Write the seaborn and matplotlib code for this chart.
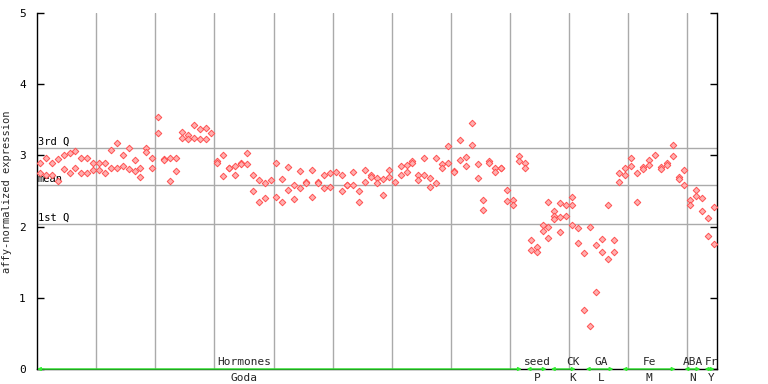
import numpy as np
import pandas as pd
import matplotlib
matplotlib.use("Agg")
import matplotlib.pyplot as plt
import seaborn as sns

# ---- data: expression values per sample (1-3 replicates) ----
sample_values = [
    [2.90, 2.75], [2.97, 2.72], [2.89, 2.72], [2.95, 2.64], [3.00, 2.81],
    [3.03, 2.75], [3.06, 2.82], [2.97, 2.75], [2.97, 2.75], [2.90, 2.79],
    [2.89, 2.80], [2.89, 2.75], [3.08, 2.82], [3.17, 2.83], [3.01, 2.85],
    [3.10, 2.81], [2.94, 2.78], [2.82, 2.70], [3.10, 3.05], [2.97, 2.82],
    [3.54, 3.31], [2.95, 2.94], [2.97, 2.64], [2.97, 2.78], [3.33, 3.25],
    [3.29, 3.23], [3.43, 3.25], [3.37, 3.23], [3.38, 3.23], [3.31],
    [2.92, 2.89], [3.01, 2.71], [2.83, 2.82], [2.85, 2.73], [2.90, 2.88],
    [3.03, 2.88], [2.72, 2.50], [2.66, 2.35], [2.61, 2.40], [2.65],
    [2.90, 2.42], [2.67, 2.35], [2.84, 2.51], [2.58, 2.39], [2.78, 2.54],
    [2.63, 2.61], [2.80, 2.41], [2.62, 2.61], [2.73, 2.54], [2.75, 2.55],
    [2.76], [2.73, 2.50], [2.59, 2.58], [2.76, 2.58], [2.50, 2.35],
    [2.80, 2.63], [2.72, 2.70], [2.68, 2.61], [2.67, 2.45], [2.80, 2.70],
    [2.62], [2.85, 2.73], [2.87, 2.76], [2.92, 2.89], [2.73, 2.66],
    [2.97, 2.73], [2.68, 2.56], [2.97, 2.61], [2.88, 2.83], [3.13, 2.90],
    [2.78, 2.77], [3.21, 2.94], [2.98, 2.85], [3.45, 3.15], [2.88, 2.68],
    [2.37, 2.23], [2.92, 2.90], [2.83, 2.76], [2.83, 2.82], [2.51, 2.36],
    [2.37, 2.31], [2.99, 2.92], [2.89, 2.83], [1.81, 1.67], [1.72, 1.64],
    [2.02, 1.94], [2.34, 2.00, 1.84], [2.22, 2.15, 2.10], [2.33, 2.13, 1.92], [2.31, 2.15],
    [2.42, 2.31, 2.02], [1.98, 1.77], [1.63, 0.83], [2.00, 0.60], [1.74, 1.08],
    [1.82, 1.64], [2.30, 1.55], [1.81, 1.64], [2.75, 2.62], [2.82, 2.72],
    [2.97, 2.85], [2.75, 2.34], [2.84, 2.81], [2.93, 2.86], [3.00],
    [2.84, 2.81], [2.90, 2.87], [3.15, 2.99], [2.69, 2.67], [2.80, 2.59],
    [2.37, 2.31], [2.51, 2.43], [2.40, 2.22], [2.12, 1.87], [2.27, 1.75],
]

quartile_names = ["3rd Q", "mean", "1st Q"]
quartile_values = [3.10, 2.58, 2.03]

group_top = ["Hormones", "seed", "CK", "GA", "Fe", "ABA", "Fr"]
group_bottom = ["Goda", "P", "K", "L", "M", "N", "Y"]
group_start = [-0.5, 82.3, 86.4, 92.3, 98.5, 109.0, 112.4]
group_end = [81.5, 85.7, 90.6, 97.0, 107.5, 111.7, 114.1]
group_label_pos = [34.5, 84.1, 90.1, 95.0, 103.0, 110.4, 113.6]

yticks = [0, 1, 2, 3, 4, 5]

rows = []
for i, vals in enumerate(sample_values):
    for v in vals:
        rows.append({"sample": i, "expression": v})
df = pd.DataFrame(rows)
n = len(sample_values)

sns.set_theme(style="white")
plt.rcParams["font.family"] = ["DejaVu Sans Mono", "DejaVu Sans"]

fig = plt.figure(figsize=(7.68, 3.84), dpi=100)
ax = fig.add_axes([37 / 768, 15 / 384, 680 / 768, 356 / 384])

# grid
for gx in np.arange(9.5, n, 10):
    ax.axvline(gx, color="#aaaaaa", lw=1.0, zorder=0)
for name, q in zip(quartile_names, quartile_values):
    ax.axhline(q, color="#aaaaaa", lw=1.0, zorder=0)
    ax.text(-0.4, q + 0.02, name, fontsize=7.5, color="black",
            ha="left", va="bottom", zorder=1)

sns.scatterplot(data=df, x="sample", y="expression", ax=ax, marker="D",
                s=11, color="#ffb0b0", edgecolor="#ff5050", linewidth=0.7,
                zorder=3, legend=False)

ax.set_xlim(-0.5, n - 0.5)
ax.set_ylim(0, 5)
ax.set_yticks(yticks)
ax.set_yticklabels([str(t) for t in yticks], fontsize=8)
ax.set_xticks([])
ax.set_xlabel("")
ax.set_ylabel("affy-normalized expression", fontsize=7.5)
ax.yaxis.set_label_coords(-0.037, 0.497)
ax.tick_params(axis="y", direction="in", length=5, width=1, right=True,
               left=True, colors="black", pad=8)
for side in ["left", "right", "bottom"]:
    ax.spines[side].set_color("black")
    ax.spines[side].set_linewidth(1)
ax.spines["top"].set_visible(False)

# group annotations
for top, bot, s0, s1, lp in zip(group_top, group_bottom, group_start,
                                group_end, group_label_pos):
    ax.annotate("", xy=(s1, 0), xytext=(s0, 0),
                arrowprops=dict(arrowstyle="<|-|>", color="#33ee33", lw=1.0,
                                mutation_scale=5, shrinkA=0, shrinkB=0),
                annotation_clip=False, zorder=5)
    ax.text(lp, 0.03, top, fontsize=8, ha="center", va="bottom")
    ax.text(lp, -0.05, bot, fontsize=8, ha="center", va="top")

fig.savefig("out.png", dpi=100)
